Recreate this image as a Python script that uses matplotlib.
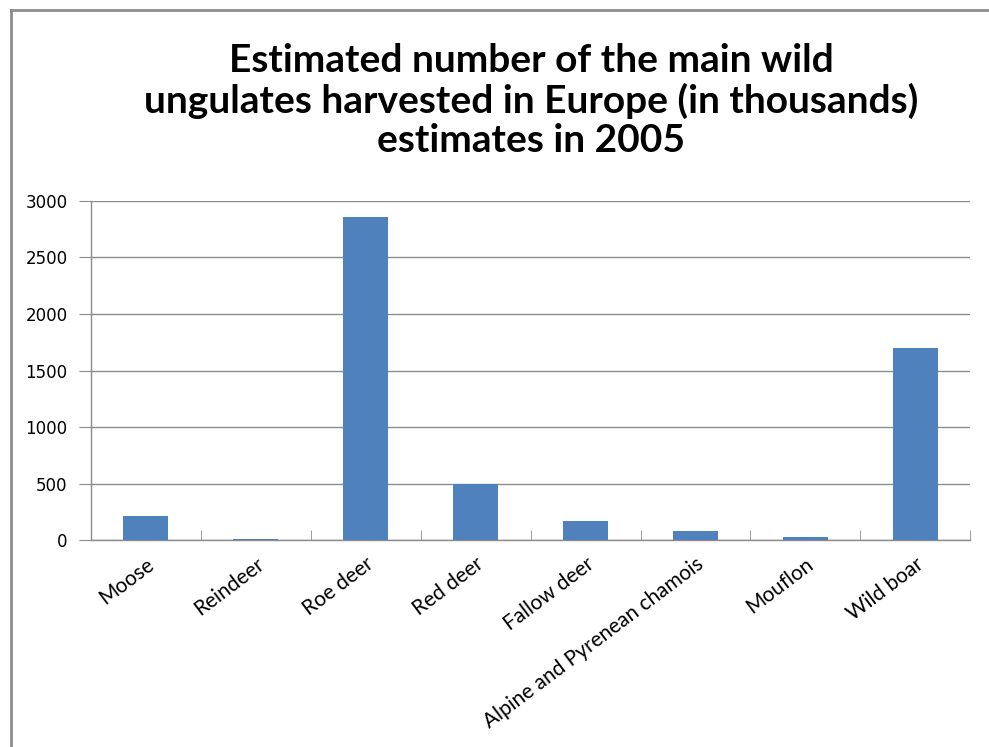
import matplotlib
matplotlib.use("Agg")
import matplotlib.pyplot as plt
from matplotlib.lines import Line2D
import numpy as np

categories = ["Moose", "Reindeer", "Roe deer", "Red deer", "Fallow deer",
              "Alpine and Pyrenean chamois", "Mouflon", "Wild boar"]
harvest_thousands = [215, 10, 2860, 500, 168, 78, 27, 1700]
yticks = [0, 500, 1000, 1500, 2000, 2500, 3000]

title = ("Estimated number of the main wild\n"
         "ungulates harvested in Europe (in thousands)\n"
         "estimates in 2005")

fig = plt.figure(figsize=(9.89, 7.47), dpi=100)
ax = fig.add_axes([0.092, 0.277, 0.889, 0.454])

x = np.arange(len(categories))
ax.bar(x, harvest_thousands, width=0.41, color="#4F81BD", zorder=3)

ax.set_xlim(-0.5, len(categories) - 0.5)
ax.set_ylim(0, 3000)
ax.set_yticks(yticks)
ax.set_yticklabels([str(v) for v in yticks], fontfamily="DejaVu Sans", fontsize=12)
ax.yaxis.grid(True, color="#8c8c8c", linewidth=1.0, zorder=0)
ax.set_axisbelow(True)

ax.set_xticks(x)
ax.set_xticklabels(categories, rotation=37, ha="right", rotation_mode="anchor",
                   fontfamily="Lato", fontsize=15)
ax.set_xticks(np.arange(len(categories) + 1) - 0.5, minor=True)
ax.tick_params(axis="x", which="major", length=0, pad=10)
ax.tick_params(axis="x", which="minor", direction="in", length=7, color="#8c8c8c")
ax.tick_params(axis="y", which="major", direction="out", length=9, color="#8c8c8c", pad=8)

for s in ["top", "right"]:
    ax.spines[s].set_visible(False)
for s in ["left", "bottom"]:
    ax.spines[s].set_color("#8c8c8c")
    ax.spines[s].set_linewidth(1.0)

fig.text(0.537, 0.942, title, ha="center", va="top", fontsize=28,
         fontweight="bold", fontfamily="Lato", linespacing=1.14)

# outer frame lines (left and top)
fig.add_artist(Line2D([0.011, 0.011], [0.0, 0.987], transform=fig.transFigure,
                      color="#8c8c8c", linewidth=2))
fig.add_artist(Line2D([0.011, 1.0], [0.987, 0.987], transform=fig.transFigure,
                      color="#8c8c8c", linewidth=2))

fig.savefig("out.png", dpi=100)
